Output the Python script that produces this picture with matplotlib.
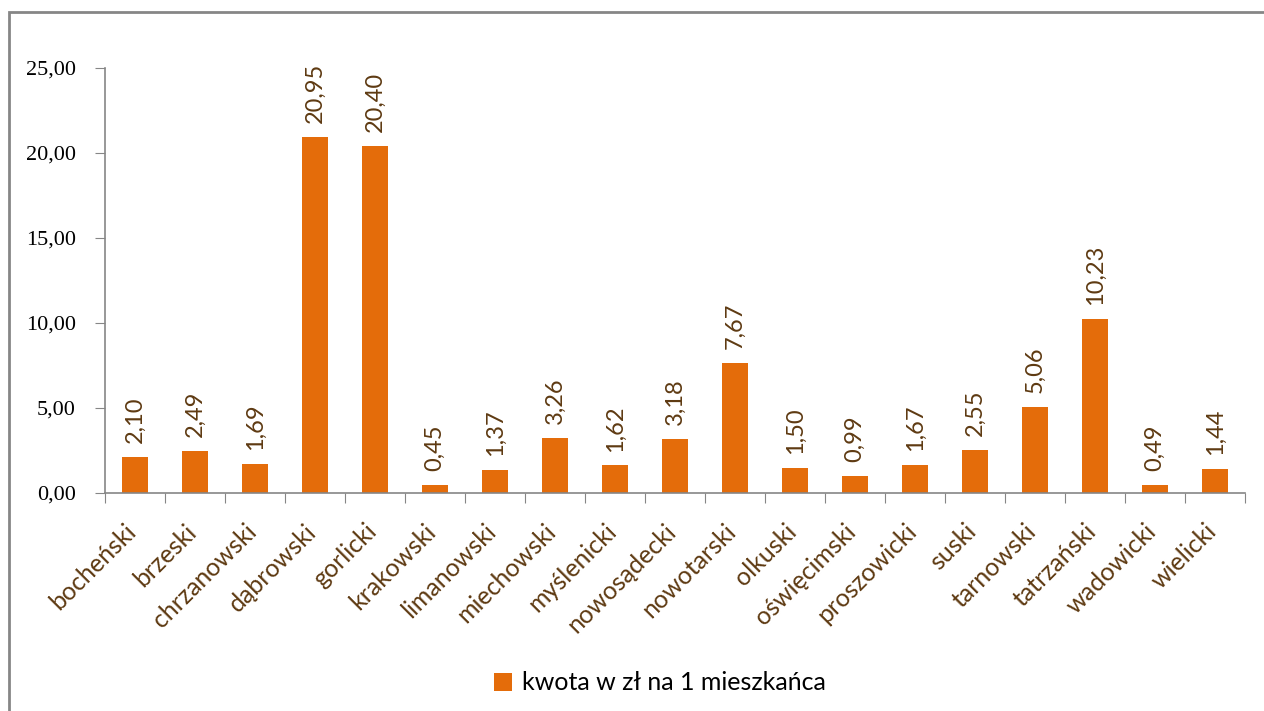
import matplotlib.pyplot as plt
from matplotlib.patches import Rectangle
import numpy as np

powiaty = ['bocheński', 'brzeski', 'chrzanowski', 'dąbrowski', 'gorlicki',
           'krakowski', 'limanowski', 'miechowski', 'myślenicki', 'nowosądecki',
           'nowotarski', 'olkuski', 'oświęcimski', 'proszowicki', 'suski',
           'tarnowski', 'tatrzański', 'wadowicki', 'wielicki']
kwota = [2.10, 2.49, 1.69, 20.95, 20.40, 0.45, 1.37, 3.26, 1.62, 3.18,
         7.67, 1.50, 0.99, 1.67, 2.55, 5.06, 10.23, 0.49, 1.44]
yticks = [0, 5, 10, 15, 20, 25]

orange = '#E46C0A'
brown = '#5E3A12'
grey = '#868686'

fig = plt.figure(figsize=(12.64, 7.11), dpi=100)
# outer chart frame (only top and left visible in the crop)
fig.patches.append(Rectangle((9 / 1264, -0.05), 1.2, 1 - 12 / 711 + 0.05,
                             transform=fig.transFigure, fill=False,
                             edgecolor=grey, linewidth=2))

ax = fig.add_axes([105 / 1264, 1 - 493 / 711, 1140 / 1264, 425 / 711])
x = np.arange(len(powiaty))
bars = ax.bar(x, kwota, width=0.42, color=orange, label='kwota w zł na 1 mieszkańca')

# value labels above bars
for xi, v in zip(x, kwota):
    ax.annotate(f'{v:.2f}'.replace('.', ','), (xi, v), xytext=(0, 10),
                textcoords='offset points', rotation=90, ha='center', va='bottom',
                fontsize=17, color=brown, family='Lato')

# slanted category labels, placed by hand so they sit lower like the original
for xi, name in zip(x, powiaty):
    ax.annotate(name, (xi, 0), xycoords=('data', 'axes fraction'),
                xytext=(-2, -25), textcoords='offset points',
                rotation=45, ha='right', va='center', rotation_mode='anchor',
                fontsize=18, color=brown, family='Lato', annotation_clip=False)

ax.set_xlim(-0.5, len(powiaty) - 0.5)
ax.set_ylim(0, 25)
ax.set_yticks(yticks)
ax.set_yticklabels([f'{t:.2f}'.replace('.', ',') for t in yticks],
                   fontsize=16, family='Liberation Serif')
ax.set_xticks(np.arange(len(powiaty) + 1) - 0.5)
ax.set_xticklabels([])
ax.tick_params(axis='x', length=7, color=grey, direction='out')
ax.tick_params(axis='y', length=7, color=grey, direction='out', pad=14)

for s in ['top', 'right']:
    ax.spines[s].set_visible(False)
for s in ['left', 'bottom']:
    ax.spines[s].set_color(grey)
    ax.spines[s].set_linewidth(1.2)

fig.legend(handles=[bars], loc='center', bbox_to_anchor=(660 / 1264, 1 - 683 / 711),
           frameon=False, handlelength=0.7, handleheight=0.7,
           handletextpad=0.4, prop={'family': 'Lato', 'size': 18})

fig.savefig('out.png', dpi=100)
